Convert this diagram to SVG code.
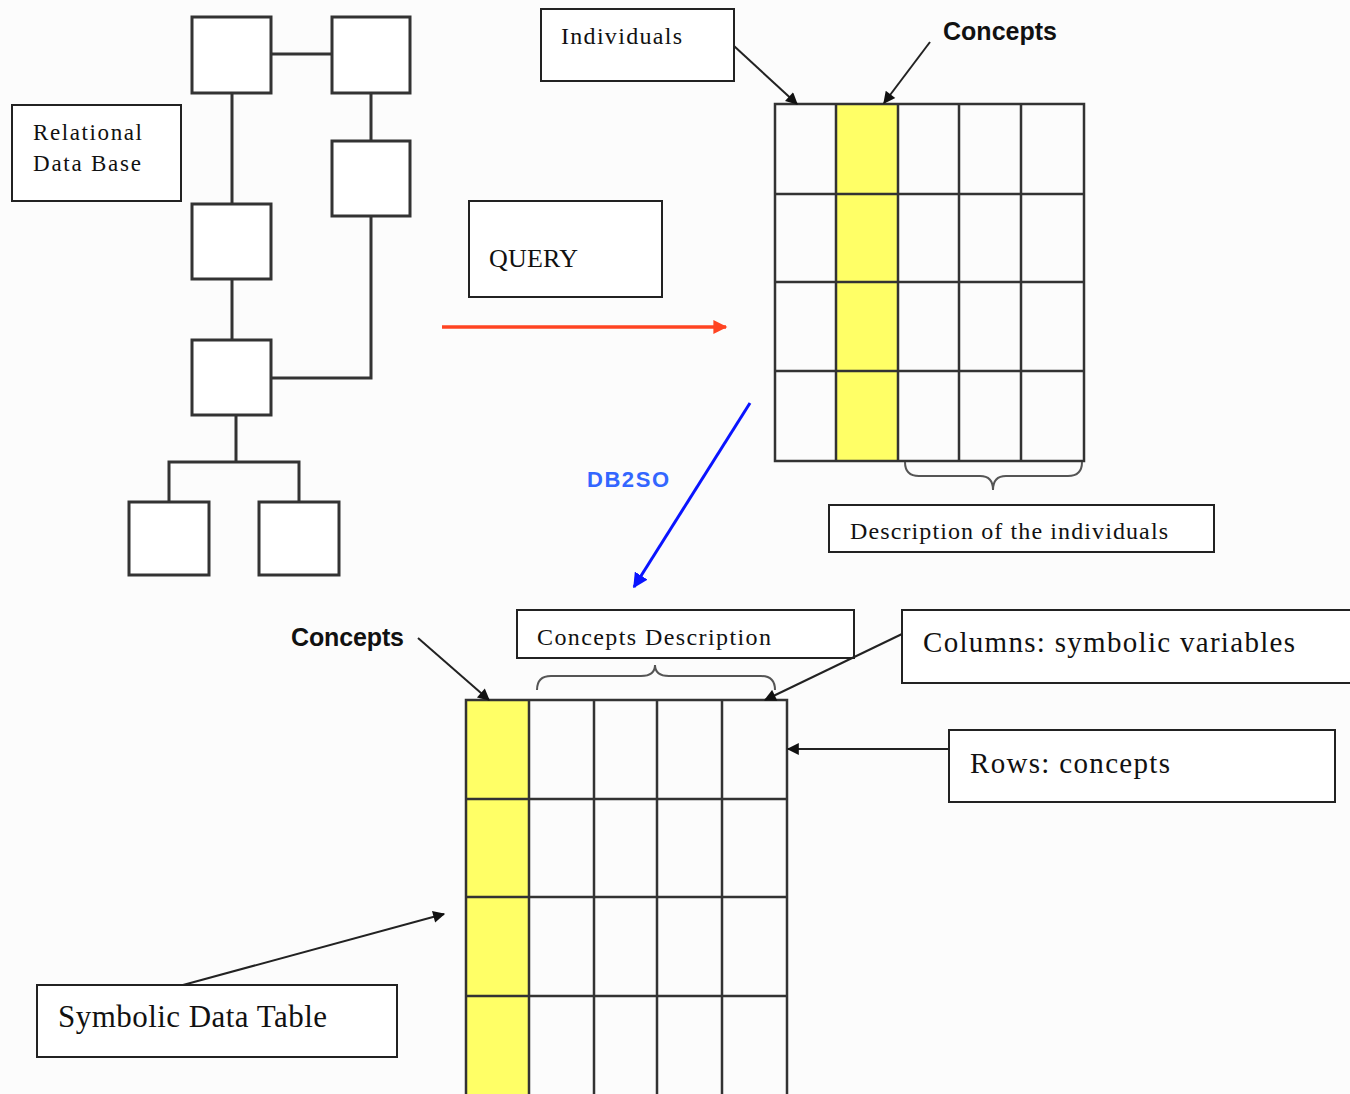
<svg xmlns="http://www.w3.org/2000/svg" width="1350" height="1094" viewBox="0 0 1350 1094">
<style>
.bx{fill:#fff;stroke:#222;stroke-width:2}
.db{fill:#fff;stroke:#333;stroke-width:3}
.ln{fill:none;stroke:#333;stroke-width:3}
.grid{fill:none;stroke:#333;stroke-width:2.5}
.yl{fill:#ffff66}
.t{font-family:"Liberation Serif","Times New Roman",serif;fill:#111}
.b{font-family:"Liberation Sans",Arial,sans-serif;font-weight:bold;fill:#111}
.ar{fill:none;stroke:#222;stroke-width:2}
.brace{fill:none;stroke:#555;stroke-width:2}
</style>
<defs>
<marker id="ah" viewBox="0 0 10 10" refX="9" refY="5" markerWidth="7" markerHeight="6" orient="auto" markerUnits="strokeWidth">
<path d="M0,0 L10,5 L0,10 z" fill="#111"/>
</marker>
<marker id="ahr" viewBox="0 0 10 10" refX="9" refY="5" markerWidth="4.5" markerHeight="4" orient="auto" markerUnits="strokeWidth">
<path d="M0,0 L10,5 L0,10 z" fill="#ff4422"/>
</marker>
<marker id="ahb" viewBox="0 0 10 10" refX="9" refY="5" markerWidth="5" markerHeight="5" orient="auto" markerUnits="strokeWidth">
<path d="M0,0 L10,5 L0,10 z" fill="#0a14ff"/>
</marker>
</defs>
<rect x="0" y="0" width="1350" height="1094" fill="#fcfcfc"/>

<g id="db-links">
<line class="ln" x1="271" y1="54" x2="332" y2="54"/>
<line class="ln" x1="371" y1="93" x2="371" y2="141"/>
<line class="ln" x1="232" y1="93" x2="232" y2="204"/>
<line class="ln" x1="232" y1="279" x2="232" y2="340"/>
<polyline class="ln" points="371,216 371,378 271,378"/>
<line class="ln" x1="236" y1="415" x2="236" y2="462"/>
<polyline class="ln" points="169,502 169,462 299,462 299,502"/>
</g>
<g id="db-tables">
<rect class="db" x="192" y="17" width="79" height="76"/>
<rect class="db" x="332" y="17" width="78" height="76"/>
<rect class="db" x="332" y="141" width="78" height="75"/>
<rect class="db" x="192" y="204" width="79" height="75"/>
<rect class="db" x="192" y="340" width="79" height="75"/>
<rect class="db" x="129" y="502" width="80" height="73"/>
<rect class="db" x="259" y="502" width="80" height="73"/>
</g>

<g id="relational-db">
<rect class="bx" x="12" y="105" width="169" height="96"/>
<text class="t" x="33" y="140" font-size="23" textLength="109" lengthAdjust="spacing">Relational</text>
<text class="t" x="33" y="171" font-size="23" textLength="108" lengthAdjust="spacing">Data Base</text>
</g>

<g id="query">
<rect class="bx" x="469" y="201" width="193" height="96"/>
<text class="t" x="489" y="267" font-size="26" textLength="89" lengthAdjust="spacing">QUERY</text>
</g>

<g id="individuals">
<rect class="bx" x="541" y="9" width="193" height="72"/>
<text class="t" x="561" y="44" font-size="24" textLength="121" lengthAdjust="spacing">Individuals</text>
</g>

<g id="concepts-top">
<text class="b" x="943" y="40" font-size="25" textLength="114" lengthAdjust="spacing">Concepts</text>
</g>

<g id="top-table">
<rect class="yl" x="836" y="104" width="62" height="357"/>
<rect class="grid" x="775" y="104" width="309" height="357"/>
<path class="grid" d="M836,104V461M898,104V461M959,104V461M1021,104V461M775,194H1084M775,282H1084M775,371H1084"/>
<path class="brace" d="M905,462 Q905,476 919,476 L980,476 Q993,476 993,490 Q993,476 1006,476 L1068,476 Q1082,476 1082,462"/>
</g>

<g id="description-individuals">
<rect class="bx" x="829" y="505" width="385" height="47"/>
<text class="t" x="850" y="539" font-size="24" textLength="318" lengthAdjust="spacing">Description of the individuals</text>
</g>

<g id="db2so-label">
<text class="b" x="587" y="487" font-size="22" style="fill:#3366ff" textLength="82" lengthAdjust="spacing">DB2SO</text>
</g>

<g id="concepts-bottom">
<text class="b" x="291" y="646" font-size="25" textLength="113" lengthAdjust="spacing">Concepts</text>
</g>

<g id="concepts-description">
<rect class="bx" x="517" y="610" width="337" height="48"/>
<text class="t" x="537" y="645" font-size="24" textLength="234" lengthAdjust="spacing">Concepts Description</text>
</g>

<g id="columns">
<rect class="bx" x="902" y="610" width="460" height="73"/>
<text class="t" x="923" y="652" font-size="29" textLength="372" lengthAdjust="spacing">Columns: symbolic variables</text>
</g>

<g id="rows">
<rect class="bx" x="949" y="730" width="386" height="72"/>
<text class="t" x="970" y="773" font-size="29" textLength="200" lengthAdjust="spacing">Rows: concepts</text>
</g>

<g id="symbolic-data-table">
<rect class="bx" x="37" y="985" width="360" height="72"/>
<text class="t" x="58" y="1027" font-size="31" textLength="269" lengthAdjust="spacing">Symbolic Data Table</text>
</g>

<g id="bottom-table">
<rect class="yl" x="466" y="700" width="63" height="400"/>
<path class="grid" d="M466,1100V700H787V1100M529,700V1100M594,700V1100M657,700V1100M722,700V1100M466,799H787M466,897H787M466,996H787"/>
<path class="brace" d="M537,690 Q537,676 551,676 L641,676 Q655,676 655,665 Q655,676 669,676 L761,676 Q775,676 775,690"/>
</g>

<g id="connectors">
<line class="ar" x1="734" y1="46" x2="797" y2="104" marker-end="url(#ah)"/>
<line class="ar" x1="930" y1="42" x2="884" y2="103" marker-end="url(#ah)"/>
<line x1="442" y1="327" x2="726" y2="327" stroke="#ff4422" stroke-width="3.5" marker-end="url(#ahr)"/>
<line x1="750" y1="403" x2="634" y2="587" stroke="#0a14ff" stroke-width="3" marker-end="url(#ahb)"/>
<line class="ar" x1="418" y1="638" x2="489" y2="700" marker-end="url(#ah)"/>
<line class="ar" x1="902" y1="634" x2="765" y2="700" marker-end="url(#ah)"/>
<line class="ar" x1="949" y1="749" x2="788" y2="749" marker-end="url(#ah)"/>
<line class="ar" x1="183" y1="985" x2="444" y2="914" marker-end="url(#ah)"/>
</g>
</svg>
